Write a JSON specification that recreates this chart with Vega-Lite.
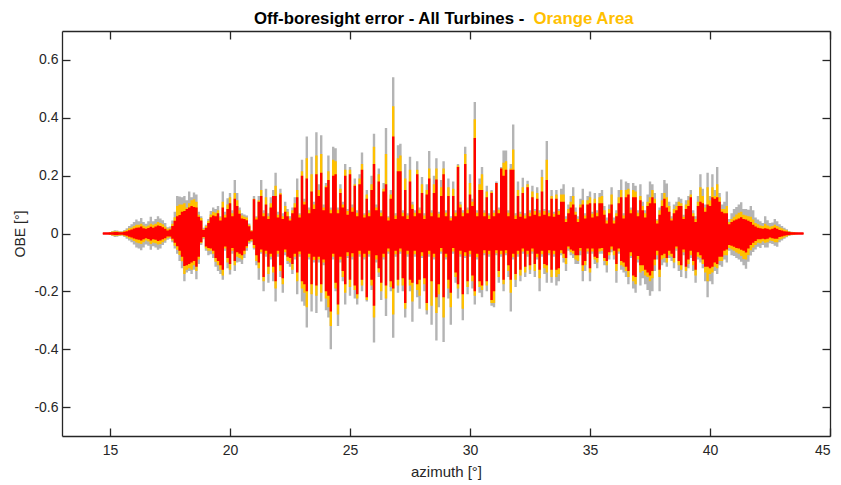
{"$schema":"https://vega.github.io/schema/vega-lite/v6.json","autosize":"none","width":768,"height":405,"padding":{"left":62,"top":31,"right":11,"bottom":49},"background":"white","view":{"stroke":null},
"title":{"text":"Off-boresight error - All Turbines - ","anchor":"start","offset":-18,"dx":240,"font":"Liberation Sans","fontSize":16.8,"fontWeight":"bold","color":"#000000"},
"data":{"values":[
{"az":14.7,"gh":0.002,"gl":-0.002,"oh":0.002,"ol":-0.002,"rh":0.004,"rl":-0.004},
{"az":14.8,"gh":0.002,"gl":-0.002,"oh":0.002,"ol":-0.002,"rh":0.004,"rl":-0.004},
{"az":14.9,"gh":0.002,"gl":-0.002,"oh":0.002,"ol":-0.002,"rh":0.004,"rl":-0.004},
{"az":15.0,"gh":0.004,"gl":-0.004,"oh":0.004,"ol":-0.004,"rh":0.004,"rl":-0.004},
{"az":15.1,"gh":0.009,"gl":-0.009,"oh":0.007,"ol":-0.007,"rh":0.004,"rl":-0.004},
{"az":15.2,"gh":0.011,"gl":-0.012,"oh":0.008,"ol":-0.008,"rh":0.005,"rl":-0.005},
{"az":15.3,"gh":0.010,"gl":-0.011,"oh":0.008,"ol":-0.008,"rh":0.005,"rl":-0.005},
{"az":15.4,"gh":0.008,"gl":-0.009,"oh":0.006,"ol":-0.007,"rh":0.004,"rl":-0.004},
{"az":15.5,"gh":0.008,"gl":-0.008,"oh":0.006,"ol":-0.006,"rh":0.004,"rl":-0.004},
{"az":15.6,"gh":0.012,"gl":-0.012,"oh":0.009,"ol":-0.009,"rh":0.006,"rl":-0.006},
{"az":15.7,"gh":0.018,"gl":-0.018,"oh":0.013,"ol":-0.013,"rh":0.008,"rl":-0.008},
{"az":15.8,"gh":0.026,"gl":-0.024,"oh":0.018,"ol":-0.017,"rh":0.011,"rl":-0.011},
{"az":15.9,"gh":0.032,"gl":-0.030,"oh":0.021,"ol":-0.021,"rh":0.014,"rl":-0.014},
{"az":16.0,"gh":0.040,"gl":-0.038,"oh":0.026,"ol":-0.026,"rh":0.017,"rl":-0.017},
{"az":16.1,"gh":0.048,"gl":-0.048,"oh":0.030,"ol":-0.031,"rh":0.020,"rl":-0.020},
{"az":16.2,"gh":0.042,"gl":-0.052,"oh":0.030,"ol":-0.034,"rh":0.021,"rl":-0.022},
{"az":16.3,"gh":0.054,"gl":-0.058,"oh":0.034,"ol":-0.036,"rh":0.024,"rl":-0.024},
{"az":16.4,"gh":0.040,"gl":-0.048,"oh":0.028,"ol":-0.030,"rh":0.018,"rl":-0.020},
{"az":16.5,"gh":0.034,"gl":-0.038,"oh":0.024,"ol":-0.024,"rh":0.016,"rl":-0.016},
{"az":16.6,"gh":0.042,"gl":-0.042,"oh":0.028,"ol":-0.028,"rh":0.019,"rl":-0.019},
{"az":16.7,"gh":0.058,"gl":-0.056,"oh":0.034,"ol":-0.036,"rh":0.023,"rl":-0.024},
{"az":16.8,"gh":0.042,"gl":-0.044,"oh":0.030,"ol":-0.032,"rh":0.020,"rl":-0.020},
{"az":16.9,"gh":0.050,"gl":-0.048,"oh":0.034,"ol":-0.034,"rh":0.024,"rl":-0.022},
{"az":17.0,"gh":0.060,"gl":-0.056,"oh":0.040,"ol":-0.038,"rh":0.028,"rl":-0.026},
{"az":17.1,"gh":0.052,"gl":-0.052,"oh":0.036,"ol":-0.036,"rh":0.026,"rl":-0.024},
{"az":17.2,"gh":0.046,"gl":-0.040,"oh":0.032,"ol":-0.030,"rh":0.022,"rl":-0.020},
{"az":17.3,"gh":0.036,"gl":-0.032,"oh":0.024,"ol":-0.024,"rh":0.016,"rl":-0.016},
{"az":17.4,"gh":0.022,"gl":-0.022,"oh":0.016,"ol":-0.016,"rh":0.010,"rl":-0.010},
{"az":17.5,"gh":0.024,"gl":-0.018,"oh":0.018,"ol":-0.014,"rh":0.014,"rl":-0.010},
{"az":17.6,"gh":0.045,"gl":-0.030,"oh":0.034,"ol":-0.024,"rh":0.026,"rl":-0.018},
{"az":17.7,"gh":0.075,"gl":-0.052,"oh":0.056,"ol":-0.042,"rh":0.044,"rl":-0.032},
{"az":17.8,"gh":0.130,"gl":-0.070,"oh":0.095,"ol":-0.056,"rh":0.060,"rl":-0.044},
{"az":17.9,"gh":0.128,"gl":-0.095,"oh":0.100,"ol":-0.074,"rh":0.064,"rl":-0.060},
{"az":18.0,"gh":0.125,"gl":-0.120,"oh":0.100,"ol":-0.096,"rh":0.075,"rl":-0.080},
{"az":18.1,"gh":0.130,"gl":-0.165,"oh":0.105,"ol":-0.140,"rh":0.078,"rl":-0.112},
{"az":18.2,"gh":0.115,"gl":-0.135,"oh":0.090,"ol":-0.125,"rh":0.085,"rl":-0.110},
{"az":18.3,"gh":0.145,"gl":-0.130,"oh":0.105,"ol":-0.120,"rh":0.090,"rl":-0.105},
{"az":18.4,"gh":0.125,"gl":-0.140,"oh":0.115,"ol":-0.125,"rh":0.095,"rl":-0.100},
{"az":18.5,"gh":0.142,"gl":-0.125,"oh":0.118,"ol":-0.110,"rh":0.092,"rl":-0.095},
{"az":18.6,"gh":0.135,"gl":-0.158,"oh":0.110,"ol":-0.130,"rh":0.090,"rl":-0.115},
{"az":18.7,"gh":0.075,"gl":-0.105,"oh":0.065,"ol":-0.090,"rh":0.058,"rl":-0.080},
{"az":18.8,"gh":0.060,"gl":-0.040,"oh":0.054,"ol":-0.034,"rh":0.045,"rl":-0.030},
{"az":18.9,"gh":0.020,"gl":-0.020,"oh":0.015,"ol":-0.015,"rh":0.012,"rl":-0.012},
{"az":19.0,"gh":0.030,"gl":-0.060,"oh":0.026,"ol":-0.052,"rh":0.020,"rl":-0.045},
{"az":19.1,"gh":0.050,"gl":-0.075,"oh":0.044,"ol":-0.060,"rh":0.036,"rl":-0.050},
{"az":19.2,"gh":0.078,"gl":-0.072,"oh":0.066,"ol":-0.060,"rh":0.056,"rl":-0.052},
{"az":19.3,"gh":0.090,"gl":-0.085,"oh":0.075,"ol":-0.070,"rh":0.062,"rl":-0.060},
{"az":19.4,"gh":0.085,"gl":-0.115,"oh":0.072,"ol":-0.098,"rh":0.060,"rl":-0.085},
{"az":19.5,"gh":0.095,"gl":-0.130,"oh":0.080,"ol":-0.110,"rh":0.070,"rl":-0.095},
{"az":19.6,"gh":0.060,"gl":-0.140,"oh":0.055,"ol":-0.125,"rh":0.045,"rl":-0.110},
{"az":19.7,"gh":0.145,"gl":-0.160,"oh":0.110,"ol":-0.145,"rh":0.090,"rl":-0.125},
{"az":19.8,"gh":0.075,"gl":-0.060,"oh":0.065,"ol":-0.052,"rh":0.055,"rl":-0.045},
{"az":19.9,"gh":0.122,"gl":-0.120,"oh":0.100,"ol":-0.100,"rh":0.085,"rl":-0.085},
{"az":20.0,"gh":0.140,"gl":-0.142,"oh":0.125,"ol":-0.125,"rh":0.105,"rl":-0.105},
{"az":20.1,"gh":0.080,"gl":-0.070,"oh":0.070,"ol":-0.060,"rh":0.060,"rl":-0.050},
{"az":20.2,"gh":0.185,"gl":-0.130,"oh":0.140,"ol":-0.110,"rh":0.120,"rl":-0.095},
{"az":20.3,"gh":0.140,"gl":-0.100,"oh":0.115,"ol":-0.080,"rh":0.095,"rl":-0.065},
{"az":20.4,"gh":0.090,"gl":-0.098,"oh":0.080,"ol":-0.085,"rh":0.068,"rl":-0.070},
{"az":20.5,"gh":0.070,"gl":-0.105,"oh":0.062,"ol":-0.090,"rh":0.052,"rl":-0.075},
{"az":20.6,"gh":0.066,"gl":-0.085,"oh":0.058,"ol":-0.072,"rh":0.050,"rl":-0.060},
{"az":20.7,"gh":0.062,"gl":-0.060,"oh":0.055,"ol":-0.050,"rh":0.046,"rl":-0.044},
{"az":20.8,"gh":0.035,"gl":-0.035,"oh":0.030,"ol":-0.030,"rh":0.025,"rl":-0.025},
{"az":20.9,"gh":0.012,"gl":-0.030,"oh":0.010,"ol":-0.025,"rh":0.008,"rl":-0.020},
{"az":21.0,"gh":0.130,"gl":-0.055,"oh":0.120,"ol":-0.050,"rh":0.118,"rl":-0.040},
{"az":21.1,"gh":0.060,"gl":-0.110,"oh":0.055,"ol":-0.095,"rh":0.048,"rl":-0.075},
{"az":21.2,"gh":0.130,"gl":-0.160,"oh":0.115,"ol":-0.120,"rh":0.110,"rl":-0.100},
{"az":21.3,"gh":0.185,"gl":-0.070,"oh":0.150,"ol":-0.065,"rh":0.130,"rl":-0.055},
{"az":21.4,"gh":0.080,"gl":-0.200,"oh":0.070,"ol":-0.165,"rh":0.060,"rl":-0.150},
{"az":21.5,"gh":0.155,"gl":-0.080,"oh":0.125,"ol":-0.070,"rh":0.100,"rl":-0.060},
{"az":21.6,"gh":0.070,"gl":-0.170,"oh":0.060,"ol":-0.140,"rh":0.050,"rl":-0.115},
{"az":21.7,"gh":0.125,"gl":-0.090,"oh":0.105,"ol":-0.080,"rh":0.090,"rl":-0.070},
{"az":21.8,"gh":0.150,"gl":-0.165,"oh":0.130,"ol":-0.135,"rh":0.130,"rl":-0.115},
{"az":21.9,"gh":0.210,"gl":-0.235,"oh":0.165,"ol":-0.190,"rh":0.130,"rl":-0.165},
{"az":22.0,"gh":0.075,"gl":-0.080,"oh":0.065,"ol":-0.070,"rh":0.055,"rl":-0.060},
{"az":22.1,"gh":0.155,"gl":-0.150,"oh":0.140,"ol":-0.130,"rh":0.135,"rl":-0.110},
{"az":22.2,"gh":0.070,"gl":-0.205,"oh":0.060,"ol":-0.175,"rh":0.050,"rl":-0.155},
{"az":22.3,"gh":0.110,"gl":-0.075,"oh":0.095,"ol":-0.065,"rh":0.075,"rl":-0.055},
{"az":22.4,"gh":0.085,"gl":-0.105,"oh":0.075,"ol":-0.095,"rh":0.060,"rl":-0.080},
{"az":22.5,"gh":0.060,"gl":-0.115,"oh":0.052,"ol":-0.100,"rh":0.045,"rl":-0.085},
{"az":22.6,"gh":0.090,"gl":-0.140,"oh":0.080,"ol":-0.125,"rh":0.070,"rl":-0.105},
{"az":22.7,"gh":0.125,"gl":-0.090,"oh":0.105,"ol":-0.080,"rh":0.090,"rl":-0.070},
{"az":22.8,"gh":0.190,"gl":-0.210,"oh":0.150,"ol":-0.165,"rh":0.125,"rl":-0.135},
{"az":22.9,"gh":0.070,"gl":-0.080,"oh":0.065,"ol":-0.072,"rh":0.055,"rl":-0.062},
{"az":23.0,"gh":0.255,"gl":-0.235,"oh":0.215,"ol":-0.190,"rh":0.200,"rl":-0.165},
{"az":23.1,"gh":0.120,"gl":-0.250,"oh":0.110,"ol":-0.205,"rh":0.100,"rl":-0.175},
{"az":23.2,"gh":0.335,"gl":-0.325,"oh":0.260,"ol":-0.255,"rh":0.190,"rl":-0.200},
{"az":23.3,"gh":0.090,"gl":-0.090,"oh":0.082,"ol":-0.082,"rh":0.070,"rl":-0.070},
{"az":23.4,"gh":0.265,"gl":-0.270,"oh":0.205,"ol":-0.210,"rh":0.145,"rl":-0.175},
{"az":23.5,"gh":0.110,"gl":-0.100,"oh":0.100,"ol":-0.092,"rh":0.085,"rl":-0.080},
{"az":23.6,"gh":0.350,"gl":-0.275,"oh":0.270,"ol":-0.215,"rh":0.205,"rl":-0.180},
{"az":23.7,"gh":0.170,"gl":-0.100,"oh":0.150,"ol":-0.090,"rh":0.130,"rl":-0.080},
{"az":23.8,"gh":0.340,"gl":-0.235,"oh":0.275,"ol":-0.205,"rh":0.210,"rl":-0.175},
{"az":23.9,"gh":0.100,"gl":-0.110,"oh":0.090,"ol":-0.100,"rh":0.080,"rl":-0.090},
{"az":24.0,"gh":0.175,"gl":-0.265,"oh":0.165,"ol":-0.225,"rh":0.160,"rl":-0.200},
{"az":24.1,"gh":0.270,"gl":-0.290,"oh":0.215,"ol":-0.255,"rh":0.185,"rl":-0.215},
{"az":24.2,"gh":0.090,"gl":-0.400,"oh":0.082,"ol":-0.320,"rh":0.070,"rl":-0.270},
{"az":24.3,"gh":0.300,"gl":-0.090,"oh":0.255,"ol":-0.080,"rh":0.200,"rl":-0.070},
{"az":24.4,"gh":0.295,"gl":-0.200,"oh":0.250,"ol":-0.190,"rh":0.205,"rl":-0.170},
{"az":24.5,"gh":0.090,"gl":-0.320,"oh":0.082,"ol":-0.280,"rh":0.070,"rl":-0.245},
{"az":24.6,"gh":0.170,"gl":-0.100,"oh":0.155,"ol":-0.090,"rh":0.140,"rl":-0.080},
{"az":24.7,"gh":0.110,"gl":-0.165,"oh":0.100,"ol":-0.150,"rh":0.090,"rl":-0.130},
{"az":24.8,"gh":0.240,"gl":-0.245,"oh":0.220,"ol":-0.205,"rh":0.200,"rl":-0.175},
{"az":24.9,"gh":0.085,"gl":-0.085,"oh":0.078,"ol":-0.078,"rh":0.065,"rl":-0.065},
{"az":25.0,"gh":0.230,"gl":-0.215,"oh":0.220,"ol":-0.185,"rh":0.205,"rl":-0.160},
{"az":25.1,"gh":0.100,"gl":-0.090,"oh":0.090,"ol":-0.080,"rh":0.075,"rl":-0.068},
{"az":25.2,"gh":0.190,"gl":-0.225,"oh":0.170,"ol":-0.195,"rh":0.165,"rl":-0.180},
{"az":25.3,"gh":0.080,"gl":-0.245,"oh":0.072,"ol":-0.225,"rh":0.060,"rl":-0.210},
{"az":25.4,"gh":0.205,"gl":-0.080,"oh":0.190,"ol":-0.072,"rh":0.170,"rl":-0.060},
{"az":25.5,"gh":0.280,"gl":-0.200,"oh":0.240,"ol":-0.180,"rh":0.220,"rl":-0.160},
{"az":25.6,"gh":0.070,"gl":-0.090,"oh":0.065,"ol":-0.082,"rh":0.055,"rl":-0.070},
{"az":25.7,"gh":0.150,"gl":-0.235,"oh":0.135,"ol":-0.230,"rh":0.120,"rl":-0.220},
{"az":25.8,"gh":0.080,"gl":-0.080,"oh":0.072,"ol":-0.072,"rh":0.060,"rl":-0.060},
{"az":25.9,"gh":0.200,"gl":-0.195,"oh":0.170,"ol":-0.180,"rh":0.150,"rl":-0.160},
{"az":26.0,"gh":0.345,"gl":-0.377,"oh":0.300,"ol":-0.290,"rh":0.240,"rl":-0.250},
{"az":26.1,"gh":0.100,"gl":-0.100,"oh":0.090,"ol":-0.090,"rh":0.080,"rl":-0.075},
{"az":26.2,"gh":0.225,"gl":-0.150,"oh":0.205,"ol":-0.135,"rh":0.180,"rl":-0.120},
{"az":26.3,"gh":0.080,"gl":-0.230,"oh":0.072,"ol":-0.200,"rh":0.060,"rl":-0.170},
{"az":26.4,"gh":0.175,"gl":-0.090,"oh":0.155,"ol":-0.082,"rh":0.145,"rl":-0.070},
{"az":26.5,"gh":0.365,"gl":-0.285,"oh":0.275,"ol":-0.225,"rh":0.170,"rl":-0.180},
{"az":26.6,"gh":0.060,"gl":-0.070,"oh":0.055,"ol":-0.062,"rh":0.045,"rl":-0.052},
{"az":26.7,"gh":0.150,"gl":-0.200,"oh":0.135,"ol":-0.185,"rh":0.120,"rl":-0.165},
{"az":26.8,"gh":0.540,"gl":-0.360,"oh":0.440,"ol":-0.280,"rh":0.335,"rl":-0.190},
{"az":26.9,"gh":0.070,"gl":-0.080,"oh":0.062,"ol":-0.072,"rh":0.050,"rl":-0.060},
{"az":27.0,"gh":0.305,"gl":-0.205,"oh":0.260,"ol":-0.180,"rh":0.215,"rl":-0.160},
{"az":27.1,"gh":0.310,"gl":-0.070,"oh":0.270,"ol":-0.062,"rh":0.215,"rl":-0.052},
{"az":27.2,"gh":0.080,"gl":-0.200,"oh":0.072,"ol":-0.180,"rh":0.060,"rl":-0.155},
{"az":27.3,"gh":0.240,"gl":-0.290,"oh":0.190,"ol":-0.260,"rh":0.150,"rl":-0.240},
{"az":27.4,"gh":0.070,"gl":-0.080,"oh":0.062,"ol":-0.072,"rh":0.050,"rl":-0.060},
{"az":27.5,"gh":0.265,"gl":-0.200,"oh":0.220,"ol":-0.180,"rh":0.180,"rl":-0.160},
{"az":27.6,"gh":0.110,"gl":-0.305,"oh":0.100,"ol":-0.235,"rh":0.085,"rl":-0.170},
{"az":27.7,"gh":0.080,"gl":-0.080,"oh":0.072,"ol":-0.072,"rh":0.060,"rl":-0.060},
{"az":27.8,"gh":0.250,"gl":-0.220,"oh":0.220,"ol":-0.195,"rh":0.205,"rl":-0.175},
{"az":27.9,"gh":0.090,"gl":-0.260,"oh":0.082,"ol":-0.215,"rh":0.070,"rl":-0.160},
{"az":28.0,"gh":0.195,"gl":-0.085,"oh":0.170,"ol":-0.078,"rh":0.140,"rl":-0.065},
{"az":28.1,"gh":0.070,"gl":-0.200,"oh":0.062,"ol":-0.175,"rh":0.050,"rl":-0.155},
{"az":28.2,"gh":0.170,"gl":-0.280,"oh":0.150,"ol":-0.265,"rh":0.135,"rl":-0.240},
{"az":28.3,"gh":0.285,"gl":-0.080,"oh":0.225,"ol":-0.072,"rh":0.190,"rl":-0.060},
{"az":28.4,"gh":0.080,"gl":-0.315,"oh":0.072,"ol":-0.250,"rh":0.060,"rl":-0.165},
{"az":28.5,"gh":0.200,"gl":-0.090,"oh":0.170,"ol":-0.082,"rh":0.140,"rl":-0.070},
{"az":28.6,"gh":0.260,"gl":-0.370,"oh":0.225,"ol":-0.275,"rh":0.187,"rl":-0.220},
{"az":28.7,"gh":0.075,"gl":-0.255,"oh":0.068,"ol":-0.210,"rh":0.055,"rl":-0.175},
{"az":28.8,"gh":0.185,"gl":-0.070,"oh":0.160,"ol":-0.062,"rh":0.130,"rl":-0.050},
{"az":28.9,"gh":0.250,"gl":-0.375,"oh":0.225,"ol":-0.290,"rh":0.205,"rl":-0.220},
{"az":29.0,"gh":0.080,"gl":-0.090,"oh":0.072,"ol":-0.082,"rh":0.060,"rl":-0.070},
{"az":29.1,"gh":0.190,"gl":-0.225,"oh":0.160,"ol":-0.190,"rh":0.130,"rl":-0.160},
{"az":29.2,"gh":0.060,"gl":-0.315,"oh":0.054,"ol":-0.255,"rh":0.045,"rl":-0.205},
{"az":29.3,"gh":0.180,"gl":-0.070,"oh":0.155,"ol":-0.062,"rh":0.130,"rl":-0.050},
{"az":29.4,"gh":0.080,"gl":-0.170,"oh":0.072,"ol":-0.150,"rh":0.060,"rl":-0.135},
{"az":29.5,"gh":0.240,"gl":-0.225,"oh":0.235,"ol":-0.190,"rh":0.230,"rl":-0.175},
{"az":29.6,"gh":0.110,"gl":-0.080,"oh":0.100,"ol":-0.072,"rh":0.090,"rl":-0.060},
{"az":29.7,"gh":0.080,"gl":-0.300,"oh":0.072,"ol":-0.260,"rh":0.060,"rl":-0.210},
{"az":29.8,"gh":0.300,"gl":-0.085,"oh":0.275,"ol":-0.078,"rh":0.240,"rl":-0.065},
{"az":29.9,"gh":0.090,"gl":-0.210,"oh":0.082,"ol":-0.185,"rh":0.070,"rl":-0.165},
{"az":30.0,"gh":0.205,"gl":-0.080,"oh":0.175,"ol":-0.072,"rh":0.135,"rl":-0.060},
{"az":30.1,"gh":0.120,"gl":-0.190,"oh":0.110,"ol":-0.165,"rh":0.095,"rl":-0.145},
{"az":30.2,"gh":0.455,"gl":-0.245,"oh":0.395,"ol":-0.215,"rh":0.330,"rl":-0.200},
{"az":30.3,"gh":0.080,"gl":-0.090,"oh":0.072,"ol":-0.082,"rh":0.060,"rl":-0.070},
{"az":30.4,"gh":0.190,"gl":-0.205,"oh":0.170,"ol":-0.185,"rh":0.150,"rl":-0.165},
{"az":30.5,"gh":0.230,"gl":-0.220,"oh":0.205,"ol":-0.195,"rh":0.150,"rl":-0.180},
{"az":30.6,"gh":0.080,"gl":-0.075,"oh":0.072,"ol":-0.068,"rh":0.060,"rl":-0.058},
{"az":30.7,"gh":0.165,"gl":-0.200,"oh":0.145,"ol":-0.180,"rh":0.125,"rl":-0.165},
{"az":30.8,"gh":0.070,"gl":-0.080,"oh":0.062,"ol":-0.072,"rh":0.050,"rl":-0.060},
{"az":30.9,"gh":0.150,"gl":-0.250,"oh":0.145,"ol":-0.240,"rh":0.140,"rl":-0.230},
{"az":31.0,"gh":0.080,"gl":-0.255,"oh":0.072,"ol":-0.240,"rh":0.060,"rl":-0.200},
{"az":31.1,"gh":0.180,"gl":-0.075,"oh":0.175,"ol":-0.068,"rh":0.175,"rl":-0.058},
{"az":31.2,"gh":0.090,"gl":-0.170,"oh":0.082,"ol":-0.150,"rh":0.070,"rl":-0.130},
{"az":31.3,"gh":0.230,"gl":-0.080,"oh":0.225,"ol":-0.072,"rh":0.225,"rl":-0.060},
{"az":31.4,"gh":0.287,"gl":-0.200,"oh":0.245,"ol":-0.175,"rh":0.200,"rl":-0.160},
{"az":31.5,"gh":0.287,"gl":-0.075,"oh":0.250,"ol":-0.068,"rh":0.220,"rl":-0.058},
{"az":31.6,"gh":0.080,"gl":-0.150,"oh":0.072,"ol":-0.130,"rh":0.060,"rl":-0.110},
{"az":31.7,"gh":0.240,"gl":-0.270,"oh":0.225,"ol":-0.205,"rh":0.220,"rl":-0.160},
{"az":31.8,"gh":0.377,"gl":-0.090,"oh":0.290,"ol":-0.082,"rh":0.220,"rl":-0.070},
{"az":31.9,"gh":0.070,"gl":-0.185,"oh":0.062,"ol":-0.160,"rh":0.050,"rl":-0.140},
{"az":32.0,"gh":0.180,"gl":-0.080,"oh":0.150,"ol":-0.072,"rh":0.130,"rl":-0.060},
{"az":32.1,"gh":0.075,"gl":-0.165,"oh":0.068,"ol":-0.145,"rh":0.058,"rl":-0.125},
{"az":32.2,"gh":0.193,"gl":-0.070,"oh":0.160,"ol":-0.062,"rh":0.140,"rl":-0.052},
{"az":32.3,"gh":0.070,"gl":-0.150,"oh":0.062,"ol":-0.135,"rh":0.052,"rl":-0.115},
{"az":32.4,"gh":0.182,"gl":-0.080,"oh":0.170,"ol":-0.072,"rh":0.160,"rl":-0.060},
{"az":32.5,"gh":0.080,"gl":-0.140,"oh":0.072,"ol":-0.125,"rh":0.060,"rl":-0.110},
{"az":32.6,"gh":0.165,"gl":-0.070,"oh":0.145,"ol":-0.062,"rh":0.125,"rl":-0.052},
{"az":32.7,"gh":0.085,"gl":-0.150,"oh":0.078,"ol":-0.130,"rh":0.065,"rl":-0.105},
{"az":32.8,"gh":0.160,"gl":-0.090,"oh":0.140,"ol":-0.082,"rh":0.120,"rl":-0.070},
{"az":32.9,"gh":0.080,"gl":-0.200,"oh":0.072,"ol":-0.155,"rh":0.060,"rl":-0.125},
{"az":33.0,"gh":0.220,"gl":-0.080,"oh":0.195,"ol":-0.072,"rh":0.145,"rl":-0.060},
{"az":33.1,"gh":0.085,"gl":-0.140,"oh":0.078,"ol":-0.120,"rh":0.065,"rl":-0.105},
{"az":33.2,"gh":0.320,"gl":-0.170,"oh":0.255,"ol":-0.135,"rh":0.185,"rl":-0.110},
{"az":33.3,"gh":0.080,"gl":-0.075,"oh":0.072,"ol":-0.068,"rh":0.060,"rl":-0.058},
{"az":33.4,"gh":0.150,"gl":-0.170,"oh":0.130,"ol":-0.150,"rh":0.120,"rl":-0.125},
{"az":33.5,"gh":0.075,"gl":-0.080,"oh":0.068,"ol":-0.072,"rh":0.058,"rl":-0.060},
{"az":33.6,"gh":0.150,"gl":-0.180,"oh":0.135,"ol":-0.150,"rh":0.120,"rl":-0.125},
{"az":33.7,"gh":0.085,"gl":-0.165,"oh":0.078,"ol":-0.140,"rh":0.065,"rl":-0.120},
{"az":33.8,"gh":0.155,"gl":-0.075,"oh":0.135,"ol":-0.068,"rh":0.110,"rl":-0.058},
{"az":33.9,"gh":0.170,"gl":-0.100,"oh":0.135,"ol":-0.085,"rh":0.110,"rl":-0.070},
{"az":34.0,"gh":0.060,"gl":-0.130,"oh":0.050,"ol":-0.105,"rh":0.040,"rl":-0.085},
{"az":34.1,"gh":0.100,"gl":-0.060,"oh":0.085,"ol":-0.052,"rh":0.070,"rl":-0.045},
{"az":34.2,"gh":0.130,"gl":-0.075,"oh":0.110,"ol":-0.065,"rh":0.090,"rl":-0.055},
{"az":34.3,"gh":0.160,"gl":-0.085,"oh":0.130,"ol":-0.070,"rh":0.100,"rl":-0.060},
{"az":34.4,"gh":0.090,"gl":-0.105,"oh":0.075,"ol":-0.090,"rh":0.065,"rl":-0.075},
{"az":34.5,"gh":0.060,"gl":-0.105,"oh":0.050,"ol":-0.095,"rh":0.040,"rl":-0.075},
{"az":34.6,"gh":0.120,"gl":-0.075,"oh":0.100,"ol":-0.060,"rh":0.090,"rl":-0.050},
{"az":34.7,"gh":0.155,"gl":-0.165,"oh":0.115,"ol":-0.130,"rh":0.100,"rl":-0.110},
{"az":34.8,"gh":0.070,"gl":-0.130,"oh":0.062,"ol":-0.110,"rh":0.052,"rl":-0.095},
{"az":34.9,"gh":0.130,"gl":-0.070,"oh":0.115,"ol":-0.062,"rh":0.100,"rl":-0.052},
{"az":35.0,"gh":0.145,"gl":-0.165,"oh":0.125,"ol":-0.135,"rh":0.105,"rl":-0.120},
{"az":35.1,"gh":0.075,"gl":-0.070,"oh":0.068,"ol":-0.062,"rh":0.055,"rl":-0.052},
{"az":35.2,"gh":0.140,"gl":-0.105,"oh":0.120,"ol":-0.090,"rh":0.105,"rl":-0.080},
{"az":35.3,"gh":0.080,"gl":-0.120,"oh":0.072,"ol":-0.100,"rh":0.060,"rl":-0.085},
{"az":35.4,"gh":0.140,"gl":-0.070,"oh":0.125,"ol":-0.062,"rh":0.105,"rl":-0.052},
{"az":35.5,"gh":0.150,"gl":-0.070,"oh":0.130,"ol":-0.060,"rh":0.105,"rl":-0.050},
{"az":35.6,"gh":0.095,"gl":-0.110,"oh":0.080,"ol":-0.095,"rh":0.065,"rl":-0.085},
{"az":35.7,"gh":0.055,"gl":-0.135,"oh":0.045,"ol":-0.110,"rh":0.035,"rl":-0.095},
{"az":35.8,"gh":0.100,"gl":-0.090,"oh":0.085,"ol":-0.075,"rh":0.070,"rl":-0.065},
{"az":35.9,"gh":0.160,"gl":-0.065,"oh":0.135,"ol":-0.055,"rh":0.100,"rl":-0.045},
{"az":36.0,"gh":0.055,"gl":-0.090,"oh":0.045,"ol":-0.075,"rh":0.035,"rl":-0.060},
{"az":36.1,"gh":0.080,"gl":-0.170,"oh":0.070,"ol":-0.130,"rh":0.060,"rl":-0.105},
{"az":36.2,"gh":0.150,"gl":-0.070,"oh":0.125,"ol":-0.062,"rh":0.105,"rl":-0.052},
{"az":36.3,"gh":0.187,"gl":-0.125,"oh":0.150,"ol":-0.110,"rh":0.125,"rl":-0.095},
{"az":36.4,"gh":0.070,"gl":-0.135,"oh":0.062,"ol":-0.115,"rh":0.052,"rl":-0.100},
{"az":36.5,"gh":0.180,"gl":-0.150,"oh":0.150,"ol":-0.130,"rh":0.125,"rl":-0.115},
{"az":36.6,"gh":0.175,"gl":-0.175,"oh":0.155,"ol":-0.150,"rh":0.135,"rl":-0.130},
{"az":36.7,"gh":0.090,"gl":-0.085,"oh":0.082,"ol":-0.078,"rh":0.070,"rl":-0.065},
{"az":36.8,"gh":0.175,"gl":-0.190,"oh":0.150,"ol":-0.165,"rh":0.125,"rl":-0.145},
{"az":36.9,"gh":0.165,"gl":-0.205,"oh":0.145,"ol":-0.175,"rh":0.125,"rl":-0.150},
{"az":37.0,"gh":0.080,"gl":-0.100,"oh":0.072,"ol":-0.090,"rh":0.060,"rl":-0.078},
{"az":37.1,"gh":0.170,"gl":-0.180,"oh":0.130,"ol":-0.135,"rh":0.115,"rl":-0.110},
{"az":37.2,"gh":0.110,"gl":-0.155,"oh":0.095,"ol":-0.130,"rh":0.080,"rl":-0.110},
{"az":37.3,"gh":0.080,"gl":-0.175,"oh":0.070,"ol":-0.145,"rh":0.055,"rl":-0.125},
{"az":37.4,"gh":0.135,"gl":-0.195,"oh":0.110,"ol":-0.150,"rh":0.095,"rl":-0.135},
{"az":37.5,"gh":0.180,"gl":-0.215,"oh":0.125,"ol":-0.165,"rh":0.105,"rl":-0.145},
{"az":37.6,"gh":0.170,"gl":-0.200,"oh":0.150,"ol":-0.155,"rh":0.125,"rl":-0.130},
{"az":37.7,"gh":0.140,"gl":-0.130,"oh":0.120,"ol":-0.110,"rh":0.105,"rl":-0.090},
{"az":37.8,"gh":0.050,"gl":-0.090,"oh":0.045,"ol":-0.075,"rh":0.035,"rl":-0.060},
{"az":37.9,"gh":0.090,"gl":-0.200,"oh":0.080,"ol":-0.150,"rh":0.065,"rl":-0.125},
{"az":38.0,"gh":0.140,"gl":-0.110,"oh":0.115,"ol":-0.090,"rh":0.095,"rl":-0.075},
{"az":38.1,"gh":0.185,"gl":-0.100,"oh":0.140,"ol":-0.085,"rh":0.120,"rl":-0.070},
{"az":38.2,"gh":0.173,"gl":-0.115,"oh":0.125,"ol":-0.100,"rh":0.090,"rl":-0.085},
{"az":38.3,"gh":0.110,"gl":-0.085,"oh":0.095,"ol":-0.075,"rh":0.075,"rl":-0.060},
{"az":38.4,"gh":0.060,"gl":-0.095,"oh":0.052,"ol":-0.080,"rh":0.045,"rl":-0.070},
{"az":38.5,"gh":0.100,"gl":-0.120,"oh":0.085,"ol":-0.100,"rh":0.070,"rl":-0.085},
{"az":38.6,"gh":0.110,"gl":-0.060,"oh":0.095,"ol":-0.052,"rh":0.080,"rl":-0.045},
{"az":38.7,"gh":0.125,"gl":-0.130,"oh":0.110,"ol":-0.110,"rh":0.095,"rl":-0.095},
{"az":38.8,"gh":0.120,"gl":-0.150,"oh":0.105,"ol":-0.125,"rh":0.095,"rl":-0.110},
{"az":38.9,"gh":0.065,"gl":-0.075,"oh":0.058,"ol":-0.065,"rh":0.050,"rl":-0.055},
{"az":39.0,"gh":0.115,"gl":-0.155,"oh":0.100,"ol":-0.130,"rh":0.085,"rl":-0.115},
{"az":39.1,"gh":0.130,"gl":-0.120,"oh":0.115,"ol":-0.105,"rh":0.095,"rl":-0.090},
{"az":39.2,"gh":0.150,"gl":-0.085,"oh":0.135,"ol":-0.075,"rh":0.125,"rl":-0.060},
{"az":39.3,"gh":0.080,"gl":-0.130,"oh":0.070,"ol":-0.110,"rh":0.060,"rl":-0.095},
{"az":39.4,"gh":0.060,"gl":-0.170,"oh":0.050,"ol":-0.145,"rh":0.040,"rl":-0.125},
{"az":39.5,"gh":0.130,"gl":-0.090,"oh":0.110,"ol":-0.080,"rh":0.095,"rl":-0.065},
{"az":39.6,"gh":0.205,"gl":-0.100,"oh":0.160,"ol":-0.085,"rh":0.110,"rl":-0.075},
{"az":39.7,"gh":0.155,"gl":-0.120,"oh":0.130,"ol":-0.105,"rh":0.105,"rl":-0.090},
{"az":39.8,"gh":0.100,"gl":-0.165,"oh":0.090,"ol":-0.135,"rh":0.075,"rl":-0.115},
{"az":39.9,"gh":0.210,"gl":-0.220,"oh":0.160,"ol":-0.165,"rh":0.100,"rl":-0.115},
{"az":40.0,"gh":0.130,"gl":-0.165,"oh":0.115,"ol":-0.140,"rh":0.095,"rl":-0.120},
{"az":40.1,"gh":0.205,"gl":-0.175,"oh":0.160,"ol":-0.135,"rh":0.125,"rl":-0.115},
{"az":40.2,"gh":0.150,"gl":-0.130,"oh":0.130,"ol":-0.115,"rh":0.120,"rl":-0.100},
{"az":40.3,"gh":0.230,"gl":-0.140,"oh":0.170,"ol":-0.120,"rh":0.125,"rl":-0.105},
{"az":40.4,"gh":0.140,"gl":-0.110,"oh":0.125,"ol":-0.095,"rh":0.110,"rl":-0.080},
{"az":40.5,"gh":0.100,"gl":-0.115,"oh":0.085,"ol":-0.095,"rh":0.075,"rl":-0.080},
{"az":40.6,"gh":0.110,"gl":-0.090,"oh":0.085,"ol":-0.075,"rh":0.070,"rl":-0.060},
{"az":40.7,"gh":0.145,"gl":-0.100,"oh":0.095,"ol":-0.075,"rh":0.070,"rl":-0.055},
{"az":40.8,"gh":0.050,"gl":-0.060,"oh":0.040,"ol":-0.050,"rh":0.032,"rl":-0.040},
{"az":40.9,"gh":0.070,"gl":-0.075,"oh":0.050,"ol":-0.055,"rh":0.040,"rl":-0.042},
{"az":41.0,"gh":0.085,"gl":-0.078,"oh":0.058,"ol":-0.060,"rh":0.045,"rl":-0.046},
{"az":41.1,"gh":0.092,"gl":-0.085,"oh":0.066,"ol":-0.066,"rh":0.048,"rl":-0.050},
{"az":41.2,"gh":0.100,"gl":-0.090,"oh":0.072,"ol":-0.070,"rh":0.052,"rl":-0.052},
{"az":41.3,"gh":0.108,"gl":-0.098,"oh":0.075,"ol":-0.078,"rh":0.056,"rl":-0.056},
{"az":41.4,"gh":0.085,"gl":-0.110,"oh":0.065,"ol":-0.088,"rh":0.050,"rl":-0.060},
{"az":41.5,"gh":0.085,"gl":-0.122,"oh":0.062,"ol":-0.090,"rh":0.048,"rl":-0.066},
{"az":41.6,"gh":0.082,"gl":-0.098,"oh":0.060,"ol":-0.074,"rh":0.044,"rl":-0.052},
{"az":41.7,"gh":0.095,"gl":-0.076,"oh":0.058,"ol":-0.058,"rh":0.040,"rl":-0.040},
{"az":41.8,"gh":0.080,"gl":-0.064,"oh":0.048,"ol":-0.048,"rh":0.030,"rl":-0.032},
{"az":41.9,"gh":0.055,"gl":-0.055,"oh":0.036,"ol":-0.040,"rh":0.024,"rl":-0.026},
{"az":42.0,"gh":0.048,"gl":-0.046,"oh":0.032,"ol":-0.032,"rh":0.020,"rl":-0.020},
{"az":42.1,"gh":0.042,"gl":-0.050,"oh":0.028,"ol":-0.034,"rh":0.018,"rl":-0.020},
{"az":42.2,"gh":0.036,"gl":-0.040,"oh":0.026,"ol":-0.028,"rh":0.016,"rl":-0.018},
{"az":42.3,"gh":0.060,"gl":-0.048,"oh":0.034,"ol":-0.032,"rh":0.018,"rl":-0.020},
{"az":42.4,"gh":0.046,"gl":-0.048,"oh":0.028,"ol":-0.030,"rh":0.016,"rl":-0.018},
{"az":42.5,"gh":0.036,"gl":-0.034,"oh":0.024,"ol":-0.024,"rh":0.014,"rl":-0.014},
{"az":42.6,"gh":0.038,"gl":-0.036,"oh":0.026,"ol":-0.026,"rh":0.016,"rl":-0.016},
{"az":42.7,"gh":0.050,"gl":-0.042,"oh":0.030,"ol":-0.030,"rh":0.020,"rl":-0.018},
{"az":42.8,"gh":0.042,"gl":-0.046,"oh":0.026,"ol":-0.030,"rh":0.016,"rl":-0.018},
{"az":42.9,"gh":0.032,"gl":-0.030,"oh":0.022,"ol":-0.022,"rh":0.012,"rl":-0.012},
{"az":43.0,"gh":0.026,"gl":-0.024,"oh":0.018,"ol":-0.018,"rh":0.010,"rl":-0.010},
{"az":43.1,"gh":0.020,"gl":-0.018,"oh":0.014,"ol":-0.014,"rh":0.008,"rl":-0.008},
{"az":43.2,"gh":0.015,"gl":-0.013,"oh":0.011,"ol":-0.010,"rh":0.007,"rl":-0.006},
{"az":43.3,"gh":0.009,"gl":-0.009,"oh":0.007,"ol":-0.007,"rh":0.005,"rl":-0.005},
{"az":43.4,"gh":0.006,"gl":-0.006,"oh":0.005,"ol":-0.005,"rh":0.004,"rl":-0.004},
{"az":43.5,"gh":0.004,"gl":-0.004,"oh":0.004,"ol":-0.004,"rh":0.004,"rl":-0.004},
{"az":43.6,"gh":0.003,"gl":-0.003,"oh":0.003,"ol":-0.003,"rh":0.004,"rl":-0.004},
{"az":43.7,"gh":0.002,"gl":-0.002,"oh":0.002,"ol":-0.002,"rh":0.004,"rl":-0.004},
{"az":43.8,"gh":0.002,"gl":-0.002,"oh":0.002,"ol":-0.002,"rh":0.004,"rl":-0.004},
{"az":43.9,"gh":0.002,"gl":-0.002,"oh":0.002,"ol":-0.002,"rh":0.004,"rl":-0.004}
]},
"resolve":{"axis":{"x":"independent","y":"independent"}},
"layer":[
{"mark":{"type":"area","color":"#b4b4b4","interpolate":"step","opacity":1},
"encoding":{
"x":{"field":"az","type":"quantitative","scale":{"domain":[13,45],"nice":false,"zero":false},
"axis":{"orient":"bottom","title":"azimuth [°]","values":[15,20,25,30,35,40,45],"grid":false,"tickSize":-8,"tickColor":"#262626","tickWidth":1.3,"domainColor":"#262626","domainWidth":1.3,"labelPadding":15,"labelFont":"Liberation Sans","labelFontSize":14,"labelColor":"#262626","titleFont":"Liberation Sans","titleFontSize":15,"titleFontWeight":"normal","titleColor":"#262626","titlePadding":7,"labelAngle":0}},
"y":{"field":"gh","type":"quantitative","scale":{"domain":[-0.7,0.7],"nice":false,"zero":false},
"axis":{"orient":"left","title":"OBE [°]","values":[-0.6,-0.4,-0.2,0,0.2,0.4,0.6],"grid":false,"tickSize":-8,"tickColor":"#262626","tickWidth":1.3,"domainColor":"#262626","domainWidth":1.3,"labelPadding":12,"labelExpr":"datum.value==0?'0':replace(format(datum.value,'.1f'),'−','-')","labelFont":"Liberation Sans","labelFontSize":14,"labelColor":"#262626","titleFont":"Liberation Sans","titleFontSize":14,"titleFontWeight":"normal","titleColor":"#262626","titlePadding":6}},
"y2":{"field":"gl"}}},
{"mark":{"type":"area","color":"#ffc000","interpolate":"step","opacity":1},
"encoding":{
"x":{"field":"az","type":"quantitative","axis":{"orient":"top","title":"Orange Area","titleColor":"#ffc000","titleFont":"Liberation Sans","titleFontSize":16.8,"titleFontWeight":"bold","titleX":471,"titleY":-4,"titleAlign":"left","values":[15,20,25,30,35,40,45],"labels":false,"grid":false,"tickSize":-8,"tickColor":"#262626","tickWidth":1.3,"domainColor":"#262626","domainWidth":1.3}},
"y":{"field":"oh","type":"quantitative","axis":{"orient":"right","title":null,"values":[-0.6,-0.4,-0.2,0,0.2,0.4,0.6],"labels":false,"grid":false,"tickSize":-8,"tickColor":"#262626","tickWidth":1.3,"domainColor":"#262626","domainWidth":1.3}},
"y2":{"field":"ol"}}},
{"mark":{"type":"area","color":"#ff0000","interpolate":"step","opacity":1},
"encoding":{
"x":{"field":"az","type":"quantitative","axis":null},
"y":{"field":"rh","type":"quantitative","axis":null},
"y2":{"field":"rl"}}}
]}
